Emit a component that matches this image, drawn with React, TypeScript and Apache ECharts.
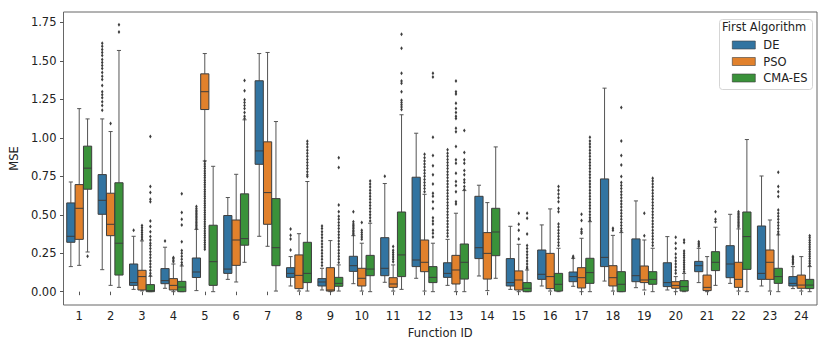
import React, { useEffect, useRef } from "react";
import * as echarts from "echarts";

const categories = ["1","2","3","4","5","6","7","8","9","10","11","12","13","14","15","16","17","18","19","20","21","22","23","24"];
const algorithms = ["DE", "PSO", "CMA-ES"];
const yTicks = [0, 0.25, 0.5, 0.75, 1.0, 1.25, 1.5, 1.75];

// [lower whisker, Q1, median, Q3, upper whisker]
const deBox = [
  [0.163,0.321,0.360,0.577,0.713],[0.143,0.503,0.594,0.761,1.123],[0.015,0.041,0.059,0.18,0.36],[0.022,0.052,0.072,0.15,0.289],
  [0.007,0.092,0.128,0.219,0.405],[0.08,0.119,0.147,0.495,0.612],[0.36,0.828,0.915,1.371,1.548],[0.037,0.093,0.119,0.156,0.228],
  [0.011,0.037,0.063,0.085,0.152],[0.052,0.132,0.169,0.23,0.364],[0.061,0.104,0.152,0.351,0.703],[0.087,0.163,0.206,0.744,1.03],
  [0.041,0.093,0.119,0.188,0.34],[0.102,0.215,0.286,0.62,0.692],[0.015,0.037,0.059,0.215,0.425],[0.037,0.08,0.113,0.271,0.434],
  [0.035,0.065,0.098,0.128,0.217],[0.069,0.163,0.223,0.733,1.323],[0.026,0.065,0.104,0.343,0.59],[0.011,0.033,0.059,0.188,0.358],
  [0.059,0.13,0.169,0.197,0.282],[0.054,0.091,0.18,0.299,0.503],[0.037,0.08,0.119,0.427,0.752],[0.02,0.037,0.054,0.098,0.163]
];
const psoBox = [
  [0.171,0.34,0.542,0.696,1.19],[0.041,0.364,0.438,0.64,1.041],[0.005,0.011,0.098,0.139,0.33],[0.0,0.011,0.041,0.085,0.18],
  [0.85,1.184,1.30,1.416,1.548],[0.063,0.171,0.336,0.466,0.763],[0.295,0.438,0.644,0.974,1.555],[0.004,0.02,0.106,0.239,0.377],
  [0.0,0.004,0.011,0.156,0.332],[0.004,0.037,0.087,0.152,0.315],[0.004,0.028,0.05,0.091,0.174],[0.004,0.13,0.191,0.336,0.633],
  [0.0,0.05,0.141,0.236,0.51],[0.007,0.082,0.249,0.384,0.579],[0.0,0.011,0.076,0.135,0.308],[0.004,0.02,0.098,0.249,0.538],
  [0.0,0.024,0.091,0.156,0.347],[0.004,0.037,0.091,0.169,0.366],[0.011,0.059,0.076,0.167,0.336],[0.0,0.022,0.041,0.065,0.098],
  [0.0,0.007,0.028,0.108,0.228],[0.004,0.028,0.08,0.191,0.408],[0.004,0.08,0.191,0.271,0.466],[0.004,0.022,0.043,0.108,0.228]
];
const cmaBox = [
  [0.258,0.666,0.803,0.946,1.123],[0.028,0.108,0.315,0.708,1.568],[0.0,0.0,0.007,0.046,0.10],[0.0,0.0,0.03,0.067,0.167],
  [0.0,0.041,0.195,0.432,0.815],[0.191,0.302,0.345,0.636,1.117],[0.004,0.169,0.286,0.605,1.106],[0.004,0.059,0.119,0.321,0.716],
  [0.004,0.035,0.054,0.093,0.174],[0.0,0.104,0.147,0.236,0.445],[0.015,0.098,0.239,0.518,1.15],[0.0,0.059,0.093,0.163,0.315],
  [0.0,0.082,0.191,0.31,0.657],[0.087,0.234,0.388,0.542,0.941],[0.0,0.0,0.022,0.059,0.141],[0.0,0.004,0.048,0.119,0.282],
  [0.0,0.054,0.124,0.217,0.455],[0.0,0.0,0.048,0.13,0.384],[0.0,0.048,0.08,0.13,0.282],[0.0,0.004,0.033,0.072,0.119],
  [0.041,0.137,0.191,0.26,0.419],[0.0,0.145,0.358,0.518,0.989],[0.0,0.054,0.098,0.152,0.369],[0.0,0.02,0.043,0.08,0.163]
];

const deOut = [
  [],
  [1.615,1.595,1.575,1.555,1.535,1.51,1.49,1.47,1.45,1.425,1.40,1.38,1.34,1.30,1.28,1.26,1.235,1.21,1.18],
  [0.40],[0.33],
  [0.553,0.54,0.53,0.52,0.51,0.50,0.49,0.48,0.47,0.46,0.45,0.44,0.43,0.42,0.41],
  [],[],
  [0.408,0.366,0.342,0.271],
  [0.427,0.41,0.39,0.37,0.35,0.33,0.31,0.29,0.27,0.25,0.23,0.21,0.19,0.17],
  [0.52,0.455,0.44,0.43,0.42,0.41,0.40,0.39,0.38,0.37],
  [0.75],[],
  [0.922,0.90,0.88,0.86,0.84,0.82,0.80,0.78,0.76,0.74,0.72,0.70,0.68,0.66,0.64,0.62,0.60,0.58,0.56,0.54,0.52,0.50,0.48,0.46,0.44,0.42,0.40,0.38,0.36],
  [],[],[],
  [0.23,0.22],
  [],[],[],
  [0.325,0.315,0.305,0.295],
  [],[],
  [0.228,0.22,0.21,0.20,0.19,0.18]
];
const psoOut = [
  [],[1.093],
  [0.43,0.415,0.40,0.385,0.37,0.355,0.34],
  [0.222,0.215,0.205,0.195],
  [0.846,0.83,0.815,0.80,0.785,0.77,0.755,0.74,0.725,0.71,0.695,0.68,0.665,0.65,0.635,0.62,0.605,0.59,0.575,0.56,0.545,0.53,0.515,0.50,0.485,0.47,0.455,0.44,0.425,0.41,0.395,0.38,0.365,0.35,0.335,0.32,0.305,0.29,0.275],
  [],[],[],[],
  [0.449,0.40,0.385,0.37,0.355,0.34],
  [0.293,0.27,0.255,0.24,0.225,0.21,0.195],
  [0.894,0.87,0.85,0.83,0.81,0.79,0.77,0.75,0.73,0.71,0.69,0.67,0.65],
  [1.37,1.30,1.285,1.225,1.19,1.165,1.14,1.125,1.063,1.04,0.943,0.857,0.835,0.77,0.716,0.69,0.65,0.585,0.57],
  [],
  [0.51,0.438,0.40,0.343],
  [],
  [0.503,0.462,0.405,0.39,0.38],
  [0.412,0.40],
  [0.51,0.364],
  [0.354,0.315,0.28,0.245,0.22,0.20,0.18,0.16,0.14,0.12],
  [],
  [0.52,0.51,0.50,0.49,0.48,0.47,0.46,0.45,0.44,0.43,0.42],
  [],[]
];
const cmaOut = [
  [0.23],
  [1.735,1.688],
  [1.008,0.683,0.644,0.60,0.585,0.46,0.423,0.39,0.358,0.336,0.315,0.30,0.28,0.26,0.24,0.22,0.20,0.18,0.16,0.14,0.12,0.105],
  [0.636,0.514,0.47,0.434,0.325,0.267,0.249,0.23,0.21,0.19,0.175],
  [],
  [1.373,1.306,1.247,1.23,1.21,1.19,1.165,1.14,1.125],
  [],
  [0.978,0.96,0.94,0.92,0.90,0.88,0.86,0.84,0.82,0.80,0.78,0.76,0.748],
  [0.87,0.807,0.564,0.52,0.49,0.47,0.45,0.43,0.41,0.39,0.37,0.35,0.33,0.31,0.29,0.27,0.25,0.23,0.21,0.19],
  [0.72,0.70,0.68,0.66,0.64,0.62,0.60,0.58,0.56,0.54,0.52,0.50,0.48,0.46],
  [1.674,1.583,1.42,1.37,1.355,1.30,1.245,1.23,1.215,1.20,1.185],
  [1.42,1.395,1.004,0.885,0.818,0.76,0.70,0.64,0.62,0.585,0.54,0.48,0.46,0.44,0.40,0.38,0.355],
  [1.048,0.904,0.857,0.835,0.787,0.76,0.727,0.71,0.683,0.665],
  [],
  [0.51,0.477,0.375,0.30,0.28,0.26,0.24,0.22,0.20,0.18,0.16,0.15],
  [0.683,0.66,0.635,0.61,0.585,0.54,0.52,0.44,0.42,0.40,0.38,0.36,0.34,0.32,0.30],
  [1.004,0.98,0.96,0.94,0.92,0.90,0.88,0.86,0.84,0.82,0.80,0.78,0.76,0.74,0.72,0.70,0.68,0.66,0.64,0.62,0.60,0.58,0.56,0.54,0.52,0.50,0.48,0.465],
  [1.197,0.98,0.885,0.824,0.748,0.71,0.69,0.67,0.65,0.63,0.61,0.59,0.57,0.55,0.53,0.51,0.49,0.47,0.45,0.43,0.41,0.395],
  [0.737,0.72,0.70,0.68,0.66,0.64,0.62,0.60,0.58,0.56,0.54,0.52,0.50,0.48,0.46,0.44,0.42,0.40,0.38,0.36,0.34,0.32,0.30],
  [0.336,0.32,0.265,0.25,0.235,0.22,0.205,0.19,0.175,0.16,0.145,0.13],
  [0.52,0.47,0.455],
  [],
  [0.776,0.683,0.65,0.618,0.531,0.51,0.49,0.47,0.45,0.43,0.41,0.39,0.375],
  [0.364,0.35,0.335,0.32,0.305,0.29,0.275,0.26,0.245,0.23,0.215,0.20,0.185,0.17]
];

const COLORS = ["#3274a1", "#e1812c", "#3a923a"];
const LINE = "#3d3d3d";
const WHISK = "#555555";
const FONT = "DejaVu Sans";
const FS = 11.5;
const HUE_W = 0.8 / 3;
const OFFSETS = [-HUE_W, 0, HUE_W];

function boxRender(offset: number, color: string) {
  return (params: any, api: any) => {
    const cat = api.value(0);
    const band = api.size([1, 0])[0];
    const cx = api.coord([cat, 0])[0] + offset * band;
    const half = (band * HUE_W * 0.98) / 2;
    const capHalf = half / 2;
    const y = (i: number) => api.coord([cat, api.value(i)])[1];
    const lo = y(1), q1 = y(2), med = y(3), q3 = y(4), hi = y(5);
    const ls = { stroke: WHISK, lineWidth: 1 };
    return {
      type: "group",
      children: [
        { type: "line", shape: { x1: cx, y1: q3, x2: cx, y2: hi }, style: ls },
        { type: "line", shape: { x1: cx, y1: q1, x2: cx, y2: lo }, style: ls },
        { type: "line", shape: { x1: cx - capHalf, y1: hi, x2: cx + capHalf, y2: hi }, style: ls },
        { type: "line", shape: { x1: cx - capHalf, y1: lo, x2: cx + capHalf, y2: lo }, style: ls },
        { type: "rect", shape: { x: cx - half, y: q3, width: half * 2, height: Math.max(q1 - q3, 0.5) }, style: { fill: color, stroke: LINE, lineWidth: 1 } },
        { type: "line", shape: { x1: cx - half, y1: med, x2: cx + half, y2: med }, style: { stroke: LINE, lineWidth: 1 } },
      ],
    };
  };
}

function outRender(offset: number) {
  return (params: any, api: any) => {
    const cat = api.value(0);
    const band = api.size([1, 0])[0];
    const p = api.coord([cat, api.value(1)]);
    const cx = p[0] + offset * band;
    const cy = p[1];
    return {
      type: "polygon",
      shape: { points: [[cx, cy - 2], [cx + 1.3, cy], [cx, cy + 2], [cx - 1.3, cy]] },
      style: { fill: LINE, stroke: null },
    };
  };
}

export default function App() {
  const ref = useRef<HTMLDivElement>(null);
  useEffect(() => {
    if (!ref.current) return;
    const chart = echarts.init(ref.current, undefined, { renderer: "svg" });
    const boxes = [deBox, psoBox, cmaBox];
    const outs = [deOut, psoOut, cmaOut];
    const series: any[] = [];
    algorithms.forEach((name, k) => {
      series.push({
        type: "custom",
        name,
        renderItem: boxRender(OFFSETS[k], COLORS[k]),
        itemStyle: { color: COLORS[k] },
        encode: { x: 0, y: [1, 2, 3, 4, 5] },
        data: boxes[k].map((b, i) => [i, ...b]),
        z: 2,
      });
    });
    algorithms.forEach((name, k) => {
      series.push({
        type: "custom",
        name: name + " outliers",
        renderItem: outRender(OFFSETS[k]),
        itemStyle: { color: LINE },
        encode: { x: 0, y: 1 },
        data: outs[k].flatMap((arr, i) => arr.map((v) => [i, v])),
        z: 3,
      });
    });
    chart.setOption({
      animation: false,
      backgroundColor: "#ffffff",
      textStyle: { fontFamily: FONT },
      grid: { left: 55, right: 13, top: 12, bottom: 41, show: true, borderColor: "#666", borderWidth: 1, backgroundColor: "transparent" },
      xAxis: {
        type: "category",
        data: categories,
        boundaryGap: true,
        name: "Function ID",
        nameLocation: "middle",
        nameGap: 16,
        nameTextStyle: { fontFamily: FONT, fontSize: FS, color: "#222" },
        axisLine: { show: false },
        axisTick: { show: true, alignWithLabel: true, length: 3.5, lineStyle: { color: "#555" } },
        axisLabel: { fontFamily: FONT, fontSize: FS, color: "#222", margin: 5 },
        splitLine: { show: false },
      },
      yAxis: {
        type: "value",
        min: -0.0866,
        max: 1.818,
        name: "MSE",
        nameLocation: "middle",
        nameGap: 28,
        nameRotate: 90,
        nameTextStyle: { fontFamily: FONT, fontSize: FS, color: "#222" },
        axisLine: { show: false },
        axisTick: { show: true, length: 3.5, lineStyle: { color: "#555" }, customValues: yTicks },
        axisLabel: { fontFamily: FONT, fontSize: FS, color: "#222", margin: 7, customValues: yTicks, formatter: (v: number) => v.toFixed(2) },
        splitLine: { show: false },
      },
      legend: {
        data: algorithms,
        orient: "vertical",
        left: 727,
        top: 34,
        itemWidth: 23,
        itemHeight: 8,
        itemGap: 4.5,
        icon: "rect",
        itemStyle: { borderColor: LINE, borderWidth: 0.6 },
        textStyle: { fontFamily: FONT, fontSize: FS, color: "#222", padding: [0, 0, 0, 3] },
        z: 10,
      },
      graphic: [
        { type: "rect", left: 719, top: 19, shape: { width: 93, height: 70, r: 3 }, style: { fill: "rgba(255,255,255,0.8)", stroke: "#d5d5d5", lineWidth: 1 }, z: 5 },
        { type: "text", left: 722, top: 21, style: { text: "First Algorithm", font: `${FS}px '${FONT}'`, fill: "#222" }, z: 6 },
      ],
      series,
    });
    return () => chart.dispose();
  }, []);
  return <div ref={ref} style={{ position: "fixed", left: 0, top: 0, width: 830, height: 346, background: "#fff" }} />;
}
